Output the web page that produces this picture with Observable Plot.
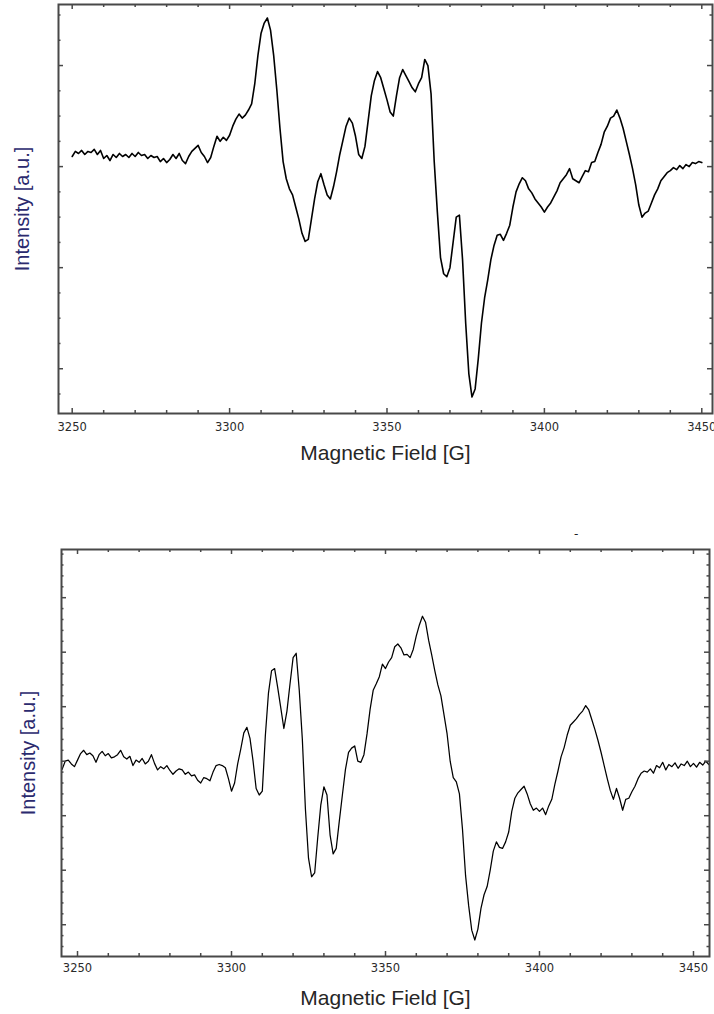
<!DOCTYPE html>
<html>
<head>
<meta charset="utf-8">
<script src="https://cdn.jsdelivr.net/npm/d3@7"></script>
<script src="https://cdn.jsdelivr.net/npm/@observablehq/plot@0.6"></script>
<style>
  html, body { margin: 0; padding: 0; background: #fff; }
  #wrap { position: relative; width: 714px; height: 1014px; overflow: hidden; background: #fff; }
  #top { position: absolute; left: 0; top: 0; }
  #bot { position: absolute; left: 0; top: 520px; }
  #dash { position: absolute; left: 574px; top: 527px; font: 12px "DejaVu Sans"; color: #222; }
</style>
</head>
<body>
<div id="wrap"><div id="top"></div><div id="bot"></div><div id="dash">-</div></div>
<script>
// ---- data ----
const fieldA = [
3250,3251,3252,3253,3254,3255,3256,3257,3258,3259,
3260,3261,3262,3263,3264,3265,3266,3267,3268,3269,
3270,3271,3272,3273,3274,3275,3276,3277,3278,3279,
3280,3281,3282,3283,3284,3285,3286,3287,3288,3289,
3290,3291,3292,3293,3294,3295,3296,3297,3298,3299,
3300,3301,3302,3303,3304,3305,3306,3307,3308,3309,
3310,3311,3312,3313,3314,3315,3316,3317,3318,3319,
3320,3321,3322,3323,3324,3325,3326,3327,3328,3329,
3330,3331,3332,3333,3334,3335,3336,3337,3338,3339,
3340,3341,3342,3343,3344,3345,3346,3347,3348,3349,
3350,3351,3352,3353,3354,3355,3356,3357,3358,3359,
3360,3361,3362,3363,3364,3365,3366,3367,3368,3369,
3370,3371,3372,3373,3374,3375,3376,3377,3378,3379,
3380,3381,3382,3383,3384,3385,3386,3387,3388,3389,
3390,3391,3392,3393,3394,3395,3396,3397,3398,3399,
3400,3401,3402,3403,3404,3405,3406,3407,3408,3409,
3410,3411,3412,3413,3414,3415,3416,3417,3418,3419,
3420,3421,3422,3423,3424,3425,3426,3427,3428,3429,
3430,3431,3432,3433,3434,3435,3436,3437,3438,3439,
3440,3441,3442,3443,3444,3445,3446,3447,3448,3449,3450];

const intensityA = [
0.10,0.15,0.13,0.16,0.12,0.15,0.14,0.17,0.12,0.16,
0.08,0.11,0.06,0.12,0.09,0.13,0.10,0.12,0.09,0.13,
0.10,0.14,0.11,0.12,0.08,0.11,0.09,0.10,0.05,0.08,
0.04,0.07,0.12,0.08,0.13,0.06,0.03,0.10,0.15,0.18,
0.21,0.14,0.10,0.04,0.09,0.20,0.30,0.25,0.29,0.26,
0.31,0.40,0.47,0.52,0.48,0.51,0.56,0.62,0.82,1.10,
1.32,1.42,1.47,1.35,1.10,0.76,0.38,0.05,-0.12,-0.22,
-0.28,-0.40,-0.52,-0.66,-0.74,-0.72,-0.52,-0.32,-0.15,-0.07,
-0.18,-0.28,-0.32,-0.20,-0.05,0.12,0.26,0.40,0.48,0.43,
0.30,0.12,0.08,0.20,0.45,0.70,0.85,0.94,0.88,0.77,
0.66,0.54,0.50,0.70,0.88,0.96,0.90,0.84,0.78,0.74,
0.82,0.88,1.06,1.00,0.72,0.05,-0.45,-0.90,-1.06,-1.09,
-1.00,-0.75,-0.50,-0.48,-0.92,-1.55,-2.05,-2.28,-2.20,-1.90,
-1.55,-1.30,-1.12,-0.92,-0.78,-0.68,-0.67,-0.73,-0.66,-0.58,
-0.40,-0.25,-0.17,-0.11,-0.14,-0.22,-0.26,-0.32,-0.36,-0.40,
-0.45,-0.40,-0.36,-0.30,-0.24,-0.16,-0.12,-0.08,-0.02,-0.12,
-0.14,-0.16,-0.10,-0.04,-0.05,0.04,0.05,0.14,0.22,0.34,
0.40,0.48,0.50,0.56,0.48,0.38,0.25,0.12,-0.02,-0.18,
-0.38,-0.50,-0.46,-0.44,-0.36,-0.28,-0.22,-0.14,-0.10,-0.06,
-0.04,-0.01,-0.03,0.01,-0.02,0.02,0.00,0.04,0.03,0.05,0.04];

const fieldB = [
3245,3246,3247,3248,3249,
3250,3251,3252,3253,3254,3255,3256,3257,3258,3259,
3260,3261,3262,3263,3264,3265,3266,3267,3268,3269,
3270,3271,3272,3273,3274,3275,3276,3277,3278,3279,
3280,3281,3282,3283,3284,3285,3286,3287,3288,3289,
3290,3291,3292,3293,3294,3295,3296,3297,3298,3299,
3300,3301,3302,3303,3304,3305,3306,3307,3308,3309,
3310,3311,3312,3313,3314,3315,3316,3317,3318,3319,
3320,3321,3322,3323,3324,3325,3326,3327,3328,3329,
3330,3331,3332,3333,3334,3335,3336,3337,3338,3339,
3340,3341,3342,3343,3344,3345,3346,3347,3348,3349,
3350,3351,3352,3353,3354,3355,3356,3357,3358,3359,
3360,3361,3362,3363,3364,3365,3366,3367,3368,3369,
3370,3371,3372,3373,3374,3375,3376,3377,3378,3379,
3380,3381,3382,3383,3384,3385,3386,3387,3388,3389,
3390,3391,3392,3393,3394,3395,3396,3397,3398,3399,
3400,3401,3402,3403,3404,3405,3406,3407,3408,3409,
3410,3411,3412,3413,3414,3415,3416,3417,3418,3419,
3420,3421,3422,3423,3424,3425,3426,3427,3428,3429,
3430,3431,3432,3433,3434,3435,3436,3437,3438,3439,
3440,3441,3442,3443,3444,3445,3446,3447,3448,3449,
3450,3451,3452,3453,3454,3455];

const intensityB = [
-0.15,0.00,0.02,-0.05,-0.10,
0.02,0.14,0.20,0.12,0.15,0.10,-0.02,0.12,0.18,0.10,
0.14,0.06,0.08,0.12,0.20,0.08,0.04,0.09,-0.08,0.02,
-0.02,0.05,-0.05,0.00,0.12,-0.04,-0.16,-0.10,-0.14,-0.08,
-0.17,-0.24,-0.18,-0.14,-0.16,-0.24,-0.20,-0.27,-0.25,-0.35,
-0.40,-0.30,-0.32,-0.36,-0.20,-0.08,-0.06,-0.08,-0.12,-0.32,
-0.55,-0.40,-0.05,0.22,0.52,0.62,0.42,0.00,-0.50,-0.62,
-0.55,0.48,1.25,1.66,1.70,1.35,0.98,0.60,0.92,1.42,
1.90,1.98,1.30,0.40,-0.88,-1.78,-2.12,-2.05,-1.40,-0.80,
-0.47,-0.62,-1.35,-1.70,-1.60,-1.10,-0.62,-0.15,0.16,0.24,
0.28,0.00,-0.02,0.12,0.50,0.95,1.30,1.42,1.55,1.78,
1.70,1.82,1.90,2.10,2.15,2.08,1.95,1.96,1.90,2.05,
2.30,2.50,2.66,2.55,2.22,1.95,1.66,1.40,1.20,0.85,
0.50,0.00,-0.30,-0.38,-0.60,-1.25,-2.10,-2.65,-3.10,-3.28,
-3.08,-2.70,-2.45,-2.30,-2.00,-1.65,-1.48,-1.58,-1.60,-1.48,
-1.30,-0.92,-0.68,-0.58,-0.52,-0.46,-0.60,-0.78,-0.90,-0.86,
-0.92,-0.86,-0.98,-0.82,-0.70,-0.42,-0.18,0.08,0.25,0.48,
0.66,0.72,0.78,0.86,0.92,1.02,0.94,0.76,0.58,0.38,
0.16,-0.08,-0.32,-0.54,-0.70,-0.50,-0.68,-0.90,-0.70,-0.68,
-0.56,-0.46,-0.32,-0.22,-0.18,-0.20,-0.14,-0.22,-0.08,-0.12,
-0.02,-0.16,-0.06,-0.10,-0.03,-0.13,-0.05,-0.08,0.00,-0.10,
-0.04,-0.11,-0.02,-0.07,0.00,-0.06];

const xMajorTicks = [3250, 3300, 3350, 3400, 3450];
const xTickLabels = ["3250", "3300", "3350", "3400", "3450"];
const xMinorTicks = [3260,3270,3280,3290,3310,3320,3330,3340,3360,3370,3380,3390,3410,3420,3430,3440];
const yMajorA = [-2, -1, 0, 1];
const yMinorA = [-2.25, -1.75, -1.5, -1.25, -0.75, -0.5, -0.25, 0.25, 0.5, 0.75, 1.25, 1.5];
const yMajorB = [-3, -2, -1, 0, 1, 2, 3];
const yMinorB = [-3.4, -3.2, -2.8, -2.6, -2.4, -2.2, -1.8, -1.6, -1.4, -1.2, -0.8, -0.6, -0.4, -0.2,
                 0.2, 0.4, 0.6, 0.8, 1.2, 1.4, 1.6, 1.8, 2.2, 2.4, 2.6, 2.8, 3.2, 3.4, 3.6, 3.8];
const xTitle = "Magnetic Field [G]";
const yTitle = "Intensity [a.u.]";

// ---- drawing ----
const axisColor = "#484848";
function panel(fields, values, yMajor, yMinor, o) {
  const data = fields.map((f, i) => ({field: f, intensity: values[i]}));
  const ih = o.height - o.mt - o.mb;
  const iw = o.width - o.ml - o.mr;
  const labelOf = new Map(xMajorTicks.map((t, i) => [t, xTickLabels[i]]));
  return Plot.plot({
    width: o.width, height: o.height,
    marginLeft: o.ml, marginRight: o.mr, marginTop: o.mt, marginBottom: o.mb,
    x: {domain: o.xd, axis: null},
    y: {domain: o.yd, axis: null},
    style: {background: "transparent", overflow: "visible"},
    marks: [
      Plot.line(data, {x: "field", y: "intensity", stroke: "#000", strokeWidth: o.lw, curve: "linear"}),
      // x ticks bottom and top (inward)
      Plot.ruleX(xMajorTicks, {x: d => d, insetTop: ih - 5, stroke: axisColor, strokeWidth: 1.5}),
      Plot.ruleX(xMinorTicks, {x: d => d, insetTop: ih - 3, stroke: axisColor, strokeWidth: 1.5}),
      Plot.ruleX(xMajorTicks, {x: d => d, insetBottom: ih - 5, stroke: axisColor, strokeWidth: 1.5}),
      Plot.ruleX(xMinorTicks, {x: d => d, insetBottom: ih - 3, stroke: axisColor, strokeWidth: 1.5}),
      // y ticks left and right (inward)
      Plot.ruleY(yMajor, {y: d => d, insetRight: iw - 5, stroke: axisColor, strokeWidth: 1.5}),
      Plot.ruleY(yMinor, {y: d => d, insetRight: iw - 2.5, stroke: axisColor, strokeWidth: 1.5}),
      Plot.ruleY(yMajor, {y: d => d, insetLeft: iw - 5, stroke: axisColor, strokeWidth: 1.5}),
      Plot.ruleY(yMinor, {y: d => d, insetLeft: iw - 2.5, stroke: axisColor, strokeWidth: 1.5}),
      Plot.frame({stroke: axisColor, strokeWidth: 2}),
      // tick labels
      Plot.text(xMajorTicks, {x: d => d, frameAnchor: "bottom", dy: o.tdy, text: d => labelOf.get(d),
        textAnchor: "middle", lineAnchor: "middle",
        fontSize: 11.5, fontFamily: "DejaVu Sans", fill: "#2a2a2a"}),
      // axis titles
      Plot.text([xTitle], {frameAnchor: "bottom", dy: o.xdy, textAnchor: "middle", lineAnchor: "middle",
        fontSize: 21, fontFamily: "Liberation Sans, Arial, sans-serif", fill: "#262626"}),
      Plot.text([yTitle], {frameAnchor: "left", dx: o.ydx, rotate: -90, textAnchor: "middle", lineAnchor: "middle",
        fontSize: 20, fontFamily: "Liberation Sans, Arial, sans-serif", fill: "#2b2a6e"})
    ]
  });
}

document.getElementById("top").appendChild(panel(fieldA, intensityA, yMajorA, yMinorA, {
  width: 714, height: 480, ml: 58, mr: 2, mt: 4, mb: 67,
  xd: [3245.65, 3453.4], yd: [-2.443, 1.604], lw: 1.6, tdy: 14, xdy: 40, ydx: -36
}));
document.getElementById("bot").appendChild(panel(fieldB, intensityB, yMajorB, yMinorB, {
  width: 714, height: 494, ml: 61, mr: 5, mt: 29, mb: 58,
  xd: [3244.8, 3455.2], yd: [-3.583, 3.884], lw: 1.25, tdy: 12, xdy: 42, ydx: -33
}));
</script>
</body>
</html>
